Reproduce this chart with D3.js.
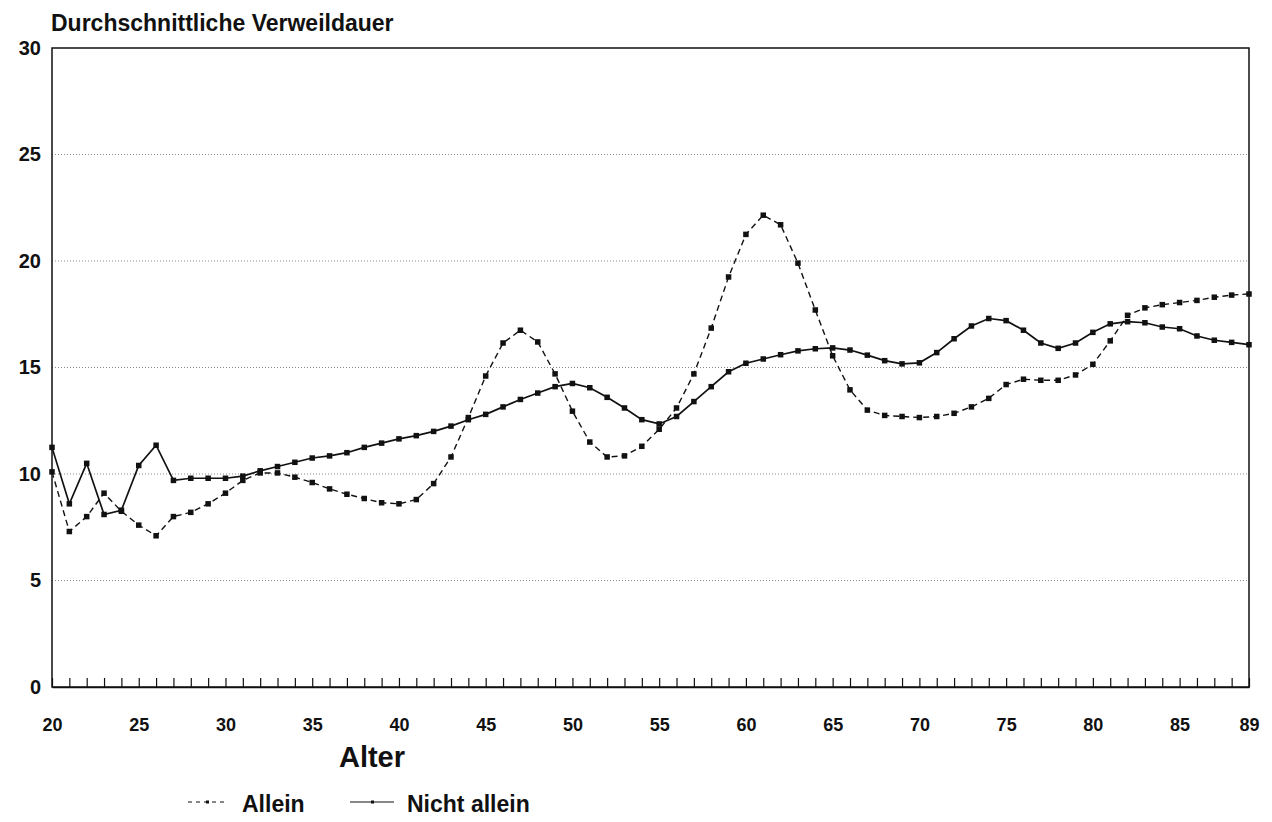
<!DOCTYPE html>
<html>
<head>
<meta charset="utf-8">
<script src="https://cdn.jsdelivr.net/npm/d3@7"></script>
<style>
	body { margin: 0; background: #fff; }
	text { font-family: "Liberation Sans", Arial, sans-serif; fill: #111; }
</style>
</head>
<body>
<div class="chart"></div>
<script>
var width = 1272;
var height = 822;

// data
var ages = d3.range(20, 90);
var seriesNames = ["Allein", "Nicht allein"];
var allein = [
	10.1, 7.3, 8.0, 9.1, 8.25, 7.6, 7.1, 8.0, 8.2, 8.6,
	9.1, 9.7, 10.05, 10.05, 9.85, 9.6, 9.3, 9.05, 8.85, 8.65,
	8.6, 8.8, 9.55, 10.8, 12.65, 14.6, 16.15, 16.75, 16.2, 14.7,
	12.95, 11.5, 10.8, 10.85, 11.3, 12.1, 13.1, 14.7, 16.85, 19.25,
	21.25, 22.15, 21.7, 19.9, 17.7, 15.55, 13.95, 13.0, 12.75, 12.7,
	12.65, 12.7, 12.85, 13.15, 13.55, 14.2, 14.45, 14.4, 14.4, 14.65,
	15.15, 16.25, 17.45, 17.8, 17.95, 18.05, 18.15, 18.3, 18.4, 18.45
];
var nichtAllein = [
	11.25, 8.6, 10.5, 8.1, 8.3, 10.4, 11.35, 9.7, 9.8, 9.8,
	9.8, 9.9, 10.15, 10.35, 10.55, 10.75, 10.85, 11.0, 11.25, 11.45,
	11.65, 11.8, 12.0, 12.25, 12.55, 12.8, 13.15, 13.5, 13.8, 14.1,
	14.25, 14.05, 13.6, 13.1, 12.55, 12.35, 12.7, 13.4, 14.1, 14.8,
	15.2, 15.4, 15.6, 15.78, 15.88, 15.92, 15.82, 15.58, 15.32, 15.17,
	15.22, 15.7, 16.35, 16.95, 17.3, 17.2, 16.75, 16.15, 15.9, 16.15,
	16.65, 17.05, 17.15, 17.1, 16.9, 16.82, 16.48, 16.28, 16.18, 16.07
];
var xLabels = [20, 25, 30, 35, 40, 45, 50, 55, 60, 65, 70, 75, 80, 85, 89];
var yTicks = [0, 5, 10, 15, 20, 25, 30];

// plot box (avoid the name "top", window.top is read-only)
var plotLeft = 52, plotRight = 1249, plotTop = 48, plotBottom = 687;

var x = d3.scaleLinear().domain([20, 89]).range([plotLeft, plotRight]);
var y = d3.scaleLinear().domain([0, 30]).range([plotBottom, plotTop]);

var svg = d3.select('.chart').append('svg')
	.attr('width', width)
	.attr('height', height);

// dotted grid
svg.append('g').selectAll('line').data(yTicks.slice(1, -1)).enter().append('line')
	.attr('x1', plotLeft).attr('x2', plotRight)
	.attr('y1', d => y(d)).attr('y2', d => y(d))
	.attr('stroke', '#8a8a8a')
	.attr('stroke-width', 1)
	.attr('stroke-dasharray', '1,2');

// frame
svg.append('rect')
	.attr('x', plotLeft).attr('y', plotTop)
	.attr('width', plotRight - plotLeft).attr('height', plotBottom - plotTop)
	.attr('fill', 'none')
	.attr('stroke', '#111')
	.attr('stroke-width', 1.5);

// small ticks for every year, pointing up
var tickAxis = svg.append('g')
	.attr('transform', 'translate(0,' + plotBottom + ')')
	.call(d3.axisBottom(x).tickValues(ages).tickSizeInner(-9).tickSizeOuter(0).tickFormat(''));
tickAxis.select('.domain').attr('stroke', '#111').attr('stroke-width', 1.5);
tickAxis.selectAll('.tick line').attr('stroke', '#111').attr('stroke-width', 1.2);

// x labels
var xAxis = svg.append('g')
	.attr('transform', 'translate(0,' + plotBottom + ')')
	.call(d3.axisBottom(x).tickValues(xLabels).tickSize(0).tickPadding(31).tickFormat(d3.format('d')));
xAxis.select('.domain').remove();
xAxis.selectAll('text')
	.attr('font-size', 18)
	.attr('font-weight', 'bold')
	.style('font-family', '"Liberation Sans", Arial, sans-serif')
	.attr('fill', '#111');

// y labels
var yAxis = svg.append('g')
	.attr('transform', 'translate(' + plotLeft + ',0)')
	.call(d3.axisLeft(y).tickValues(yTicks).tickSize(0).tickPadding(11));
yAxis.select('.domain').remove();
yAxis.selectAll('text')
	.attr('font-size', 20)
	.attr('font-weight', 'bold')
	.style('font-family', '"Liberation Sans", Arial, sans-serif')
	.attr('fill', '#111');

// lines
var line = d3.line()
	.x((d, i) => x(ages[i]))
	.y(d => y(d));

var series = [allein, nichtAllein];
var dashes = ['6,4', null];
var widths = [1.4, 1.7];

series.forEach(function(values, s) {
	svg.append('path')
		.datum(values)
		.attr('d', line)
		.attr('fill', 'none')
		.attr('stroke', '#111')
		.attr('stroke-width', widths[s])
		.attr('stroke-dasharray', dashes[s]);

	svg.append('g').selectAll('rect').data(values).enter().append('rect')
		.attr('x', (d, i) => x(ages[i]) - 2.75)
		.attr('y', d => y(d) - 2.75)
		.attr('width', 5.5)
		.attr('height', 5.5)
		.attr('fill', '#111');
});

// title and axis title
svg.append('text')
	.attr('x', 51).attr('y', 31)
	.attr('font-size', 23)
	.attr('font-weight', 'bold')
	.text('Durchschnittliche Verweildauer');

svg.append('text')
	.attr('x', 372).attr('y', 767)
	.attr('text-anchor', 'middle')
	.attr('font-size', 29)
	.attr('font-weight', 'bold')
	.text('Alter');

// legend
var legendX = [188, 350];
var legend = svg.append('g').selectAll('g').data(seriesNames).enter().append('g')
	.attr('transform', (d, i) => 'translate(' + legendX[i] + ',802)');
legend.append('line')
	.attr('x1', 0).attr('x2', (d, i) => i == 0 ? 40 : 44)
	.attr('stroke', '#111')
	.attr('stroke-width', 1)
	.attr('stroke-dasharray', (d, i) => i == 0 ? '4,4' : null);
legend.append('rect')
	.attr('x', (d, i) => i == 0 ? 18 : 21).attr('y', -1.5)
	.attr('width', 3).attr('height', 3)
	.attr('fill', '#111');
legend.append('text')
	.attr('x', (d, i) => i == 0 ? 54 : 57)
	.attr('y', 10)
	.attr('font-size', 23)
	.attr('font-weight', 'bold')
	.text(d => d);
</script>
</body>
</html>
